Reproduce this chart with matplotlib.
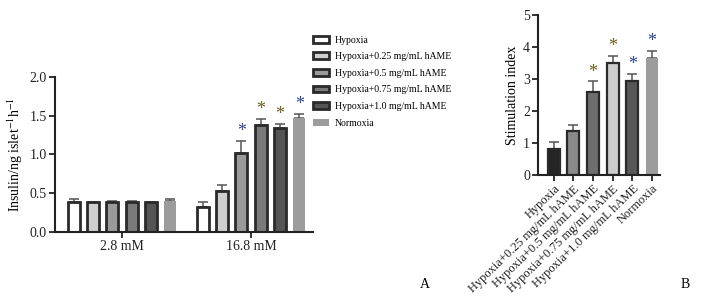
import matplotlib
matplotlib.use("Agg")
import matplotlib.pyplot as plt
import numpy as np

plt.rcParams["font.family"] = "Liberation Serif"
plt.rcParams["mathtext.fontset"] = "stix"

groups = ["2.8 mM", "16.8 mM"]
series = ["Hypoxia", "Hypoxia+0.25 mg/mL hAME", "Hypoxia+0.5 mg/mL hAME",
          "Hypoxia+0.75 mg/mL hAME", "Hypoxia+1.0 mg/mL hAME", "Normoxia"]

# insulin, rows = series, cols = groups
insulin = [[0.38, 0.32], [0.38, 0.53], [0.39, 1.02],
           [0.39, 1.38], [0.38, 1.34], [0.40, 1.47]]
insulin_err = [[0.05, 0.07], [0.01, 0.08], [0.01, 0.15],
               [0.01, 0.08], [0.01, 0.05], [0.02, 0.05]]
insulin_star = [[None, None], [None, None], [None, "blue"],
                [None, "olive"], [None, "olive"], [None, "blue"]]

stim = [0.83, 1.37, 2.60, 3.50, 2.95, 3.65]
stim_err = [0.22, 0.20, 0.33, 0.22, 0.22, 0.23]
stim_star = [None, None, "olive", "olive", "blue", "blue"]

left_colors = ["#ffffff", "#cfcfcf", "#9a9a9a", "#7a7a7a", "#555555", "#9c9c9c"]
right_colors = ["#252525", "#8a8a8a", "#6e6e6e", "#cdcdcd", "#575757", "#9c9c9c"]
star_colors = {"blue": "#2b3f8f", "olive": "#6b5a1a"}
edge = "#2a2a2a"
errc = "#555555"

fig = plt.figure(figsize=(7.03, 3.02), dpi=100)

# ---- panel A
ax1 = fig.add_axes([0.0782, 0.232, 0.367, 0.514])
step = 0.15
width = 0.093
gx = np.arange(len(groups))
handles = []
for i, name in enumerate(series):
    xs = gx + (i - 2.5) * step
    vals = insulin[i]
    errs = insulin_err[i]
    last = i == len(series) - 1
    b = ax1.bar(xs, vals, width, color=left_colors[i],
                edgecolor=left_colors[i] if last else edge,
                linewidth=0 if last else 2.0, label=name, zorder=2)
    handles.append(b)
    ax1.errorbar(xs, vals, yerr=[np.zeros(len(vals)), errs], fmt="none",
                 ecolor=errc, elinewidth=1.1, capsize=3.5, capthick=1.1, zorder=1)
    for j in range(len(groups)):
        if insulin_star[i][j]:
            ax1.text(xs[j], vals[j] + errs[j] + 0.01, "*", ha="center", va="bottom",
                     fontsize=13, color=star_colors[insulin_star[i][j]])

ax1.set_xlim(-0.519, 1.48)
ax1.set_ylim(0, 2.0)
ax1.set_yticks([0, 0.5, 1.0, 1.5, 2.0])
ax1.set_yticklabels(["0.0", "0.5", "1.0", "1.5", "2.0"])
ax1.set_xticks(gx)
ax1.set_xticklabels(groups)
ax1.set_ylabel("Insulin/ng islet$^{-1}$h$^{-1}$", fontsize=10, labelpad=3)
ax1.tick_params(labelsize=10, width=1.3, length=4, pad=2, colors="#222222")
for s in ["top", "right"]:
    ax1.spines[s].set_visible(False)
for s in ["left", "bottom"]:
    ax1.spines[s].set_linewidth(1.5)
    ax1.spines[s].set_color("#222222")

fig.legend(handles=handles, loc="upper left", bbox_to_anchor=(0.440, 0.895),
           frameon=False, fontsize=7, handlelength=1.6, handleheight=0.7,
           labelspacing=0.78, handletextpad=0.6, borderaxespad=0)

# ---- panel B
ax2 = fig.add_axes([0.765, 0.42, 0.174, 0.53])
xr = np.arange(len(series))
ax2.bar(xr, stim, 0.61, color=right_colors,
        edgecolor=[edge] * 5 + [right_colors[5]],
        linewidth=[1.6] * 5 + [0], zorder=2)
ax2.errorbar(xr, stim, yerr=[np.zeros(len(stim)), stim_err], fmt="none",
             ecolor=errc, elinewidth=1.1, capsize=3.5, capthick=1.1, zorder=1)
for i in range(len(series)):
    if stim_star[i]:
        ax2.text(xr[i], stim[i] + stim_err[i] + 0.02, "*", ha="center", va="bottom",
                 fontsize=13, color=star_colors[stim_star[i]])
ax2.set_xlim(-0.816, 5.41)
ax2.set_ylim(0, 5)
ax2.set_yticks([0, 1, 2, 3, 4, 5])
ax2.set_xticks(xr)
ax2.set_xticklabels(series, rotation=44, ha="right", rotation_mode="anchor",
                    fontsize=9)
ax2.set_ylabel("Stimulation index", fontsize=10, labelpad=3)
ax2.tick_params(axis="y", labelsize=10)
ax2.tick_params(width=1.3, length=4, pad=1.5, colors="#222222")
for s in ["top", "right"]:
    ax2.spines[s].set_visible(False)
for s in ["left", "bottom"]:
    ax2.spines[s].set_linewidth(1.5)
    ax2.spines[s].set_color("#222222")

fig.text(0.605, 0.045, "A", fontsize=10, ha="center")
fig.text(0.975, 0.045, "B", fontsize=10, ha="center")

fig.savefig("out.png", dpi=100)
